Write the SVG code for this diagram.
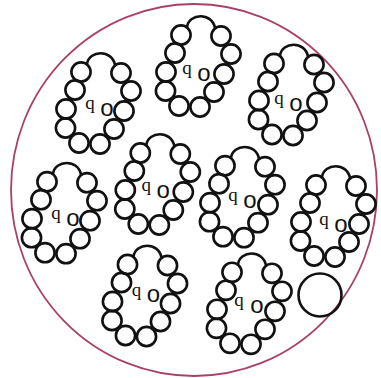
<svg xmlns="http://www.w3.org/2000/svg" xmlns:xlink="http://www.w3.org/1999/xlink" width="381" height="378" viewBox="0 0 381 378">
<style>
.ln{fill:none;stroke:#111;stroke-width:2.6}
.q{font-family:"Liberation Serif",serif;font-size:19px;fill:#111;text-anchor:middle}
.o{font-family:"Liberation Sans",sans-serif;font-size:24px;fill:#111;text-anchor:middle}
</style>
<defs>
<g id="ring" class="ln">
<path d="M87,64 C89,50 112,49 115,65"/>
<circle cx="81" cy="72" r="9.6"/>
<circle cx="121" cy="73" r="9.6"/>
<circle cx="75" cy="90" r="9.6"/>
<circle cx="131" cy="91" r="9.6"/>
<circle cx="66" cy="109" r="9.6"/>
<circle cx="124" cy="111" r="9.6"/>
<circle cx="65.5" cy="128" r="9.6"/>
<circle cx="114" cy="129" r="9.6"/>
<circle cx="79" cy="143" r="9.6"/>
<circle cx="100" cy="144" r="9.6"/>
</g>
</defs>
<rect width="381" height="378" fill="#fff"/>
<ellipse id="boundary" cx="194" cy="190" rx="183" ry="186" fill="none" stroke="#a8406a" stroke-width="1.8"/>
<g id="cluster1"><use xlink:href="#ring"/><text class="q" x="90" y="109">q</text><text class="o" x="107" y="116">o</text></g>
<g id="cluster2" transform="translate(100,-37)"><use xlink:href="#ring"/><text class="q" x="87" y="111">q</text><text class="o" x="104" y="118">o</text></g>
<g id="cluster3" transform="translate(193,-8.5)"><use xlink:href="#ring"/><text class="q" x="86" y="112">q</text><text class="o" x="103" y="119">o</text></g>
<g id="cluster4" transform="translate(-34,109.7)"><use xlink:href="#ring"/><text class="q" x="90" y="109">q</text><text class="o" x="107" y="116">o</text></g>
<g id="cluster5" transform="translate(59.3,81)"><use xlink:href="#ring"/><text class="q" x="87" y="110">q</text><text class="o" x="104" y="117">o</text></g>
<g id="cluster6" transform="translate(144,93.7)"><use xlink:href="#ring"/><text class="q" x="89" y="107">q</text><text class="o" x="106" y="114">o</text></g>
<g id="cluster7" transform="translate(235,113)"><use xlink:href="#ring"/><text class="q" x="89" y="112">q</text><text class="o" x="106" y="119">o</text></g>
<g id="cluster8" transform="translate(46.5,192.5)"><use xlink:href="#ring"/><text class="q" x="90" y="103">q</text><text class="o" x="107" y="109">o</text></g>
<g id="cluster9" transform="translate(151,200.3)"><use xlink:href="#ring"/><text class="q" x="88" y="106">q</text><text class="o" x="106" y="113">o</text></g>
<circle id="vacuole" cx="320" cy="295" r="21.5" class="ln"/>
</svg>
